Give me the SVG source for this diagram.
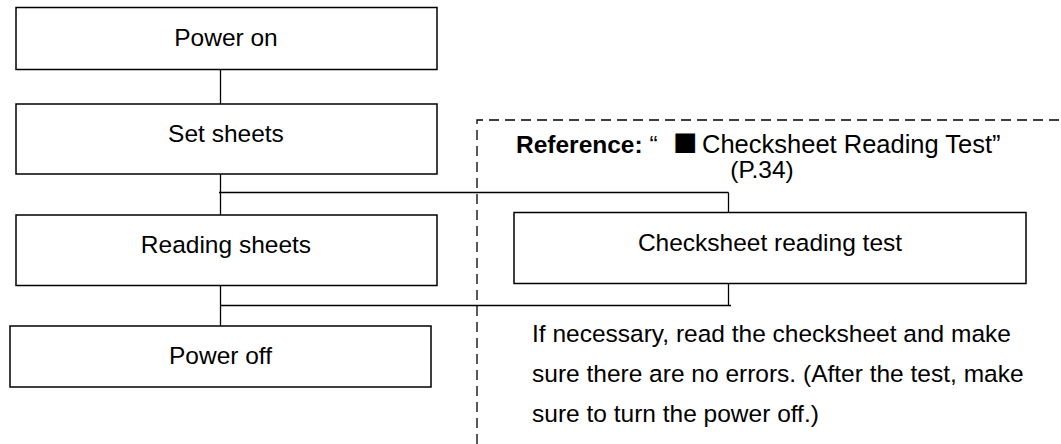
<svg xmlns="http://www.w3.org/2000/svg" width="1061" height="444" viewBox="0 0 1061 444">
<style>
.box{fill:#fff;stroke:#000;stroke-width:1.5}
.ln{stroke:#000;stroke-width:1.3;fill:none}
.dash{stroke:#000;stroke-width:1.3;fill:none;stroke-dasharray:10 6}
text{font-family:"Liberation Sans",Arial,sans-serif;font-size:24.5px;fill:#000}
.c{text-anchor:middle}
.sq{font-family:"Noto Sans CJK JP","DejaVu Sans",sans-serif}
</style>
<rect width="1061" height="444" fill="#fff"/>
<g id="connectors">
<line class="ln" x1="220.5" y1="69" x2="220.5" y2="104"/>
<line class="ln" x1="220.5" y1="174" x2="220.5" y2="215"/>
<line class="ln" x1="219" y1="192.5" x2="728.5" y2="192.5"/>
<line class="ln" x1="728.5" y1="192.5" x2="728.5" y2="212.5"/>
<line class="ln" x1="220.5" y1="285.5" x2="220.5" y2="326"/>
<line class="ln" x1="220.5" y1="305.5" x2="731" y2="305.5"/>
<line class="ln" x1="728.5" y1="283" x2="728.5" y2="306"/>
</g>
<g id="reference-area">
<path class="dash" d="M477 444 V120 H1061"/>
<text x="516" y="153"><tspan font-weight="bold">Reference:</tspan> “<tspan class="sq" x="673">■</tspan><tspan x="702" font-size="25.5">Checksheet Reading Test”</tspan></text>
<text class="c" x="762" y="178">(P.34)</text>
</g>
<g id="power-on"><rect class="box" x="16" y="7.5" width="421" height="62"/><text class="c" x="226" y="46">Power on</text></g>
<g id="set-sheets"><rect class="box" x="16" y="104" width="421" height="70"/><text class="c" x="226" y="142">Set sheets</text></g>
<g id="reading-sheets"><rect class="box" x="16" y="215" width="421" height="70.5"/><text class="c" x="226" y="252.5">Reading sheets</text></g>
<g id="power-off"><rect class="box" x="10" y="326" width="421" height="61"/><text class="c" x="220.5" y="363.5">Power off</text></g>
<g id="checksheet-test"><rect class="box" x="514" y="212.5" width="512" height="71"/><text class="c" x="770" y="251">Checksheet reading test</text></g>
<g id="note">
<text x="532" y="342">If necessary, read the checksheet and make</text>
<text x="532" y="382">sure there are no errors. (After the test, make</text>
<text x="532" y="422">sure to turn the power off.)</text>
</g>
</svg>
